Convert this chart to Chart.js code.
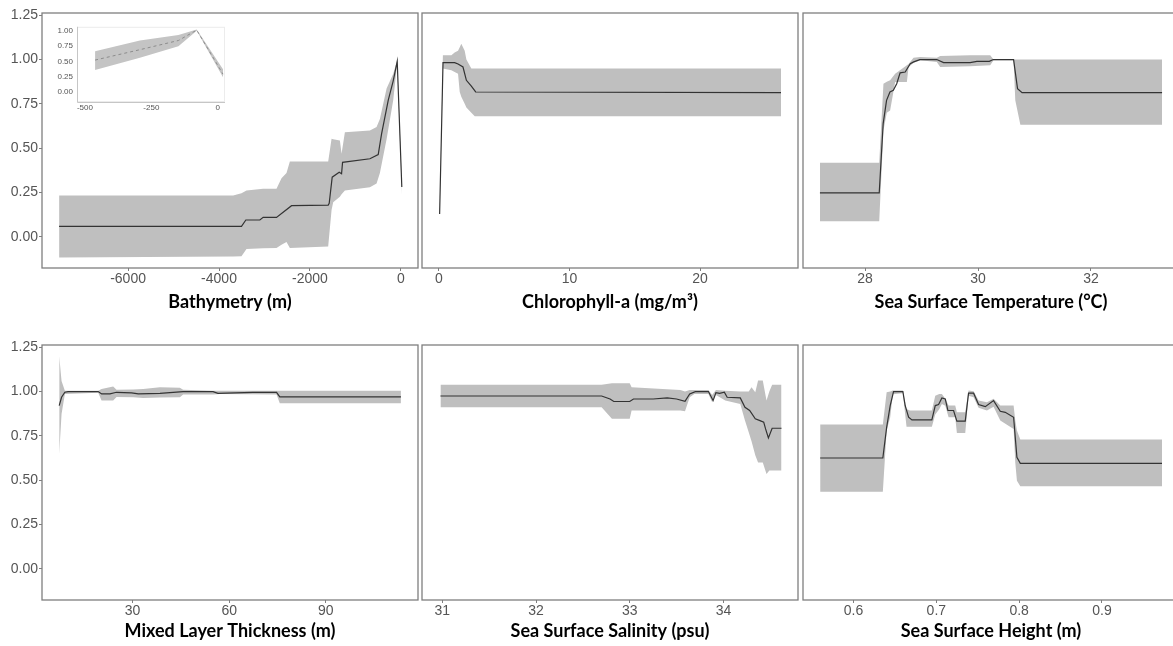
<!DOCTYPE html>
<html>
<head>
<meta charset="utf-8">
<script src="https://cdn.jsdelivr.net/npm/chart.js@4.4.1/dist/chart.umd.min.js"></script>
<style>
html,body{margin:0;padding:0;background:#fff;}
body{width:1173px;height:646px;position:relative;overflow:hidden;}
canvas{position:absolute;display:block;}
</style>
</head>
<body>
<canvas id="c1" width="420" height="315" style="left:0;top:0;width:420px;height:315px"></canvas>
<canvas id="c2" width="380" height="315" style="left:420px;top:0;width:380px;height:315px"></canvas>
<canvas id="c3" width="390" height="315" style="left:800px;top:0;width:390px;height:315px"></canvas>
<canvas id="c4" width="420" height="316" style="left:0;top:330px;width:420px;height:316px"></canvas>
<canvas id="c5" width="380" height="316" style="left:420px;top:330px;width:380px;height:316px"></canvas>
<canvas id="c6" width="390" height="316" style="left:800px;top:330px;width:390px;height:316px"></canvas>
<canvas id="cInset" width="180" height="100" style="left:50px;top:18px;width:180px;height:100px"></canvas>
<script>
// ---------- shared y axis ----------
const yTicks = [0, 0.25, 0.5, 0.75, 1.0, 1.25];
const yTickLabels = ['0.00', '0.25', '0.50', '0.75', '1.00', '1.25'];

// ---------- Bathymetry ----------
const bathyBandX = [-7517,-3689,-3506,-3396,-3029,-2736,-2626,-2516,-2442,-1599,-1525,-1489,-1342,-1305,-1232,-682,-535,-462,-315,-169,-81,20];
const bathyUpper = [0.232,0.232,0.245,0.26,0.27,0.27,0.33,0.36,0.425,0.425,0.553,0.55,0.543,0.468,0.59,0.6,0.619,0.665,0.836,0.92,0.996,0.317];
const bathyLower = [-0.117,-0.112,-0.11,-0.07,-0.066,-0.064,-0.045,-0.03,-0.064,-0.055,0.15,0.194,0.225,0.24,0.26,0.279,0.3,0.36,0.55,0.77,0.98,0.24];
const bathyLineX = [-7517,-3506,-3410,-3102,-3029,-2736,-2405,-1599,-1577,-1511,-1357,-1305,-1283,-682,-499,-425,-279,-169,-81,20];
const bathyLineY = [0.058,0.058,0.094,0.094,0.109,0.109,0.175,0.178,0.188,0.336,0.364,0.355,0.42,0.44,0.464,0.58,0.77,0.88,0.99,0.28];
const bathyTicks = [-6000,-4000,-2000,0];
const bathyTickLabels = ['-6000','-4000','-2000','0'];

// ---------- Bathymetry inset (last 500 m) ----------
const insetBandX = [-462,-293,-148,-79,20];
const insetUpper = [0.665,0.84,0.93,1.02,0.37];
const insetLower = [0.36,0.56,0.745,1.0,0.24];
const insetLineX = [-462,-293,-148,-79,20];
const insetLineY = [0.52,0.69,0.84,1.01,0.29];
const insetXTicks = [-500,-250,0];
const insetXTickLabels = ['-500','-250','0'];
const insetYTicks = [0,0.25,0.5,0.75,1.0];
const insetYTickLabels = ['0.00','0.25','0.50','0.75','1.00'];

// ---------- Chlorophyll-a ----------
const chlBandX = [0.05,0.3,0.95,1.2,1.46,1.59,1.71,1.97,2.1,2.48,2.74,26.2];
const chlUpper = [0.14,1.025,1.025,1.04,1.05,1.07,1.09,1.05,1.0,0.95,0.95,0.95];
const chlLower = [0.12,0.95,0.94,0.93,0.92,0.817,0.79,0.75,0.73,0.70,0.68,0.68];
const chlLineX = [0.05,0.31,1.2,1.46,1.84,2.1,2.48,2.81,26.2];
const chlLineY = [0.128,0.983,0.983,0.975,0.958,0.883,0.85,0.817,0.813];
const chlTicks = [0,10,20];
const chlTickLabels = ['0','10','20'];

// ---------- Sea Surface Temperature ----------
const sstBandX = [27.2,28.25,28.325,28.384,28.443,28.532,28.74,28.77,28.857,28.975,29.27,29.33,29.86,30.216,30.275,30.63,30.66,30.75,33.26];
const sstUpper = [0.417,0.417,0.864,0.875,0.883,0.92,0.968,0.975,1.011,1.015,1.011,1.02,1.025,1.025,1.0,1.0,1.0,1.0,1.0];
const sstLower = [0.087,0.087,0.6,0.70,0.713,0.874,0.874,0.958,0.98,0.996,0.987,0.958,0.962,0.968,0.996,0.996,0.77,0.632,0.632];
const sstLineX = [27.2,28.25,28.32,28.38,28.44,28.5,28.56,28.62,28.71,28.8,28.86,28.97,29.27,29.39,29.86,29.98,30.2,30.27,30.63,30.7,30.78,33.26];
const sstLineY = [0.247,0.247,0.638,0.77,0.817,0.826,0.864,0.925,0.93,0.977,0.987,1.0,1.0,0.983,0.983,0.99,0.99,1.0,1.0,0.836,0.813,0.813];
const sstTicks = [28,30,32];
const sstTickLabels = ['28','30','32'];

// ---------- Mixed Layer Thickness ----------
const mltBandX = [7.24,7.97,9.0,19.35,20.38,24.0,25.03,30.2,33.3,38.5,44.7,45.7,55.0,57.1,74.7,75.7,113.3];
const mltUpper = [1.2,1.06,1.005,1.005,1.015,1.028,1.01,1.012,1.015,1.024,1.022,1.01,1.005,1.005,1.005,1.005,1.005];
const mltLower = [0.648,0.874,0.987,0.994,0.949,0.95,0.97,0.968,0.964,0.966,0.968,0.983,0.983,0.987,0.983,0.934,0.934];
const mltLineX = [7.24,7.97,9.0,10,19.35,20.4,23,25,29.7,31.8,38.5,45.7,55,56.5,67.3,74.7,75.7,113.3];
const mltLineY = [0.921,0.968,0.996,1.0,1.0,0.987,0.987,0.996,0.993,0.987,0.99,1.0,1.0,0.99,0.996,0.996,0.97,0.97];
const mltTicks = [30,60,90];
const mltTickLabels = ['30','60','90'];

// ---------- Sea Surface Salinity ----------
const sssBandX = [30.98,32.70,32.81,33.0,33.02,33.54,33.59,33.64,33.69,33.84,33.88,33.92,34.02,34.18,34.23,34.27,34.30,34.34,34.37,34.42,34.46,34.49,34.52,34.62];
const sssUpper = [1.038,1.038,1.047,1.047,1.024,1.009,1.0,1.009,1.009,1.009,0.98,1.009,1.005,1.0,1.0,1.0,1.024,0.996,1.062,1.062,0.949,1.0,1.038,1.038];
const sssLower = [0.911,0.911,0.846,0.846,0.893,0.893,0.889,0.968,0.987,0.987,0.94,0.98,0.949,0.93,0.836,0.77,0.72,0.64,0.60,0.60,0.535,0.554,0.554,0.554];
const sssLineX = [30.98,32.7,32.79,32.83,33.0,33.04,33.25,33.4,33.5,33.59,33.64,33.7,33.84,33.89,33.92,33.96,34.01,34.04,34.18,34.23,34.28,34.34,34.39,34.43,34.45,34.48,34.52,34.62];
const sssLineY = [0.975,0.975,0.958,0.944,0.944,0.958,0.958,0.964,0.958,0.945,0.987,1.0,1.0,0.949,0.994,0.99,0.996,0.968,0.964,0.911,0.893,0.846,0.836,0.827,0.789,0.738,0.793,0.793];
const sssTicks = [31,32,33,34];
const sssTickLabels = ['31','32','33','34'];

// ---------- Sea Surface Height ----------
const sshBandX = [0.5597,0.6354,0.640,0.6443,0.6475,0.6596,0.6640,0.668,0.6946,0.6987,0.7035,0.7067,0.7108,0.7148,0.7228,0.7248,0.7349,0.7389,0.745,0.751,0.7611,0.7691,0.7772,0.7933,0.7953,0.7973,0.8014,0.9725];
const sshUpper = [0.814,0.814,0.996,1.0,1.006,1.006,0.902,0.893,0.893,0.977,0.987,0.987,0.96,0.921,0.921,0.883,0.883,1.006,1.002,0.949,0.94,0.959,0.921,0.921,0.836,0.78,0.729,0.729];
const sshLower = [0.435,0.435,0.78,0.855,0.985,0.991,0.802,0.802,0.802,0.87,0.9,0.93,0.92,0.855,0.855,0.766,0.766,0.977,0.968,0.908,0.893,0.915,0.836,0.789,0.6,0.497,0.465,0.465];
const sshLineX = [0.5597,0.6354,0.640,0.6443,0.6483,0.6596,0.6624,0.6665,0.6705,0.6946,0.6987,0.7027,0.7067,0.7108,0.714,0.7208,0.7248,0.7349,0.7389,0.745,0.751,0.7591,0.7691,0.7772,0.7832,0.7933,0.7973,0.8014,0.9725];
const sshLineY = [0.625,0.625,0.798,0.921,1.0,1.0,0.92,0.855,0.84,0.84,0.921,0.927,0.964,0.958,0.893,0.893,0.833,0.833,0.991,0.991,0.927,0.915,0.949,0.889,0.883,0.855,0.629,0.595,0.595];
const sshTicks = [0.6,0.7,0.8,0.9];
const sshTickLabels = ['0.6','0.7','0.8','0.9'];

// ---------- rendering ----------
Chart.defaults.font.family = "'Liberation Sans', Arial, sans-serif";
Chart.defaults.animation = false;

const BAND = '#bfbfbf';
const LINE = '#333333';
const FRAME = '#7f7f7f';
const TICKTXT = '#555555';

const framePlugin = {
  id: 'frame',
  afterDatasetsDraw(chart, args, opts) {
    const a = chart.chartArea, ctx = chart.ctx;
    ctx.save();
    if (opts.inset) {
      ctx.strokeStyle = '#ececec';
      ctx.lineWidth = 1;
      ctx.strokeRect(a.left + 0.5, a.top + 0.5, a.right - a.left - 1, a.bottom - a.top - 1);
      ctx.strokeStyle = '#c6c6c6';
      ctx.beginPath();
      ctx.moveTo(a.left + 0.5, a.top);
      ctx.lineTo(a.left + 0.5, a.bottom + 0.5);
      ctx.lineTo(a.right, a.bottom + 0.5);
      ctx.stroke();
    } else {
      ctx.strokeStyle = FRAME;
      ctx.lineWidth = 1.3;
      ctx.strokeRect(a.left, a.top, a.right - a.left, a.bottom - a.top);
    }
    ctx.restore();
  }
};

function pts(xs, ys) { return xs.map((x, i) => ({x: x, y: ys[i]})); }

function panel(id, p) {
  const yAxis = {
    type: 'linear',
    min: -0.177, max: 1.263,
    display: p.showY,
    afterFit: (s) => { s.width = p.showY ? 42 : 0; },
    afterBuildTicks: (s) => { s.ticks = yTicks.map(v => ({value: v})); },
    grid: {display: true, drawOnChartArea: false, drawTicks: true, tickLength: 3, color: FRAME, lineWidth: 1},
    border: {display: false},
    ticks: {
      padding: 1, color: TICKTXT, font: {size: 14},
      callback: (v, i) => yTickLabels[i]
    }
  };
  const xAxis = {
    type: 'linear',
    min: p.xmin, max: p.xmax,
    afterFit: (s) => { s.height = p.xh; },
    afterBuildTicks: (s) => { s.ticks = p.ticks.map(v => ({value: v})); },
    grid: {display: true, drawOnChartArea: false, drawTicks: true, tickLength: 3, color: FRAME, lineWidth: 1},
    border: {display: false},
    ticks: {
      padding: 0, color: TICKTXT, font: {size: 14}, maxRotation: 0, autoSkip: false,
      callback: (v, i) => p.labels[i]
    },
    title: {
      display: true, text: p.title, color: '#000',
      font: {family: "Lato, 'Open Sans', sans-serif", weight: 'bold', size: 18, lineHeight: 1.2},
      padding: {top: 0, bottom: 0}
    }
  };
  return new Chart(document.getElementById(id), {
    type: 'line',
    data: {
      datasets: [
        {data: pts(p.lineX, p.lineY), borderColor: LINE, borderWidth: 1.2, pointRadius: 0, fill: false, tension: 0},
        {data: pts(p.bandX, p.upper), borderColor: 'rgba(0,0,0,0)', borderWidth: 0, pointRadius: 0, fill: false, tension: 0},
        {data: pts(p.bandX, p.lower), borderColor: 'rgba(0,0,0,0)', borderWidth: 0, pointRadius: 0, fill: 1, backgroundColor: BAND, tension: 0}
      ]
    },
    options: {
      responsive: false,
      animation: false,
      events: [],
      layout: {padding: p.pad},
      plugins: {legend: {display: false}, tooltip: {enabled: false}, frame: {}},
      scales: {x: xAxis, y: yAxis}
    },
    plugins: [framePlugin]
  });
}

panel('c1', {showY: true, xmin: -7893, xmax: 376, xh: 45, ticks: bathyTicks, labels: bathyTickLabels, title: 'Bathymetry (m)',
  bandX: bathyBandX, upper: bathyUpper, lower: bathyLower, lineX: bathyLineX, lineY: bathyLineY,
  pad: {left: 0, right: 2, top: 13, bottom: 2}});
panel('c2', {showY: false, xmin: -1.3, xmax: 27.5, xh: 45, ticks: chlTicks, labels: chlTickLabels, title: 'Chlorophyll-a (mg/m³)',
  bandX: chlBandX, upper: chlUpper, lower: chlLower, lineX: chlLineX, lineY: chlLineY,
  pad: {left: 2, right: 2, top: 13, bottom: 2}});
panel('c3', {showY: false, xmin: 26.9, xmax: 33.56, xh: 45, ticks: sstTicks, labels: sstTickLabels, title: 'Sea Surface Temperature (°C)',
  bandX: sstBandX, upper: sstUpper, lower: sstLower, lineX: sstLineX, lineY: sstLineY,
  pad: {left: 3, right: 11, top: 13, bottom: 2}});
panel('c4', {showY: true, xmin: 1.9, xmax: 118.6, xh: 42, ticks: mltTicks, labels: mltTickLabels, title: 'Mixed Layer Thickness (m)',
  bandX: mltBandX, upper: mltUpper, lower: mltLower, lineX: mltLineX, lineY: mltLineY,
  pad: {left: 0, right: 2, top: 15, bottom: 4}});
panel('c5', {showY: false, xmin: 30.783, xmax: 34.796, xh: 42, ticks: sssTicks, labels: sssTickLabels, title: 'Sea Surface Salinity (psu)',
  bandX: sssBandX, upper: sssUpper, lower: sssLower, lineX: sssLineX, lineY: sssLineY,
  pad: {left: 2, right: 2, top: 15, bottom: 4}});
panel('c6', {showY: false, xmin: 0.539, xmax: 0.993, xh: 42, ticks: sshTicks, labels: sshTickLabels, title: 'Sea Surface Height (m)',
  bandX: sshBandX, upper: sshUpper, lower: sshLower, lineX: sshLineX, lineY: sshLineY,
  pad: {left: 3, right: 11, top: 15, bottom: 4}});

// inset
new Chart(document.getElementById('cInset'), {
  type: 'line',
  data: {
    datasets: [
      {data: pts(insetLineX, insetLineY), borderColor: '#8c8c8c', borderWidth: 1, borderDash: [3, 3], pointRadius: 0, fill: false, tension: 0},
      {data: pts(insetBandX, insetUpper), borderColor: 'rgba(0,0,0,0)', borderWidth: 0, pointRadius: 0, fill: false, tension: 0},
      {data: pts(insetBandX, insetLower), borderColor: 'rgba(0,0,0,0)', borderWidth: 0, pointRadius: 0, fill: 1, backgroundColor: '#c4c4c4', tension: 0}
    ]
  },
  options: {
    responsive: false,
    animation: false,
    events: [],
    layout: {padding: {left: 0, right: 5, top: 7, bottom: 0}},
    plugins: {legend: {display: false}, tooltip: {enabled: false}, frame: {inset: true}},
    scales: {
      x: {
        type: 'linear', min: -530, max: 27.5,
        afterFit: (s) => { s.height = 16; },
        afterBuildTicks: (s) => { s.ticks = insetXTicks.map(v => ({value: v})); },
        grid: {display: false, drawTicks: false}, border: {display: false},
        ticks: {padding: 1, color: TICKTXT, font: {size: 8}, maxRotation: 0, autoSkip: false,
          callback: (v, i) => insetXTickLabels[i]}
      },
      y: {
        type: 'linear', min: -0.165, max: 1.064,
        afterFit: (s) => { s.width = 27; },
        afterBuildTicks: (s) => { s.ticks = insetYTicks.map(v => ({value: v})); },
        grid: {display: false, drawTicks: false}, border: {display: false},
        ticks: {padding: 4, color: TICKTXT, font: {size: 8},
          callback: (v, i) => insetYTickLabels[i]}
      }
    }
  },
  plugins: [framePlugin]
});
</script>
</body>
</html>
